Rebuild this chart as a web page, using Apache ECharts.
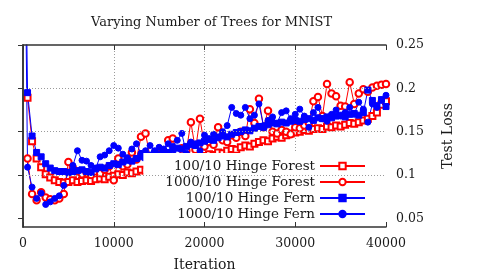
<!DOCTYPE html>
<html>
<head>
<meta charset="utf-8">
<script src="https://cdn.jsdelivr.net/npm/echarts@6/dist/echarts.min.js"></script>
<style>
html,body{margin:0;padding:0;background:#fff;}
#chart{width:485px;height:277px;}
</style>
</head>
<body>
<div id="chart"></div>
<script>
const titleText = 'Varying Number of Trees for MNIST';
const xName = 'Iteration';
const yName = 'Test Loss';
const seriesNames = ['100/10 Hinge Forest', '1000/10 Hinge Forest', '100/10 Hinge Fern', '1000/10 Hinge Fern'];
const xTicks = [0, 10000, 20000, 30000, 40000];
const yTicks = [0.05, 0.1, 0.15, 0.2, 0.25];

const iterations = [0,
  500, 1000, 1500, 2000, 2500, 3000, 3500, 4000, 4500, 5000,
  5500, 6000, 6500, 7000, 7500, 8000, 8500, 9000, 9500, 10000,
  10500, 11000, 11500, 12000, 12500, 13000, 13500, 14000, 14500, 15000,
  15500, 16000, 16500, 17000, 17500, 18000, 18500, 19000, 19500, 20000,
  20500, 21000, 21500, 22000, 22500, 23000, 23500, 24000, 24500, 25000,
  25500, 26000, 26500, 27000, 27500, 28000, 28500, 29000, 29500, 30000,
  30500, 31000, 31500, 32000, 32500, 33000, 33500, 34000, 34500, 35000,
  35500, 36000, 36500, 37000, 37500, 38000, 38500, 39000, 39500, 40000];

const forest100 = [null,
  0.189, 0.139, 0.119, 0.109, 0.101, 0.097, 0.094, 0.092, 0.091, 0.092,
  0.094, 0.092, 0.093, 0.094, 0.093, 0.095, 0.096, 0.095, 0.098, 0.099,
  0.101, 0.100, 0.103, 0.102, 0.104, 0.106, 0.105, 0.108, 0.107, 0.110,
  0.112, 0.111, 0.114, 0.113, 0.116, 0.118, 0.117, 0.120, 0.119, 0.122,
  0.124, 0.123, 0.126, 0.125, 0.128, 0.130, 0.129, 0.132, 0.134, 0.133,
  0.136, 0.138, 0.140, 0.139, 0.142, 0.144, 0.143, 0.146, 0.148, 0.149,
  0.150, 0.152, 0.151, 0.153, 0.154, 0.153, 0.156, 0.155, 0.157, 0.156,
  0.158, 0.160, 0.159, 0.161, 0.163, 0.165, 0.168, 0.172, 0.181, 0.185];

const forest1000 = [null,
  0.119, 0.078, 0.071, 0.080, 0.074, 0.072, 0.071, 0.073, 0.078, 0.115,
  0.108, 0.104, 0.101, 0.103, 0.100, 0.104, 0.102, 0.106, 0.110, 0.094,
  0.119, 0.110, 0.112, 0.126, 0.118, 0.144, 0.148, 0.121, 0.118, 0.124,
  0.125, 0.140, 0.142, 0.126, 0.131, 0.128, 0.161, 0.129, 0.165, 0.133,
  0.138, 0.135, 0.155, 0.140, 0.138, 0.146, 0.143, 0.150, 0.145, 0.176,
  0.160, 0.188, 0.155, 0.174, 0.150, 0.148, 0.152, 0.150, 0.147, 0.155,
  0.154, 0.157, 0.160, 0.185, 0.190, 0.168, 0.205, 0.194, 0.191, 0.180,
  0.179, 0.207, 0.182, 0.194, 0.199, 0.196, 0.201, 0.203, 0.204, 0.205];

const fern100 = [0.6,
  0.195, 0.145, 0.126, 0.121, 0.113, 0.108, 0.105, 0.104, 0.104, 0.103,
  0.104, 0.105, 0.106, 0.104, 0.103, 0.107, 0.109, 0.108, 0.111, 0.113,
  0.112, 0.115, 0.117, 0.116, 0.119, 0.121, 0.120, 0.123, 0.125, 0.124,
  0.127, 0.126, 0.129, 0.131, 0.130, 0.133, 0.135, 0.134, 0.137, 0.139,
  0.141, 0.140, 0.143, 0.145, 0.144, 0.147, 0.149, 0.150, 0.152, 0.151,
  0.154, 0.156, 0.155, 0.158, 0.160, 0.159, 0.161, 0.160, 0.162, 0.163,
  0.162, 0.164, 0.165, 0.163, 0.166, 0.165, 0.167, 0.166, 0.168, 0.169,
  0.167, 0.170, 0.171, 0.169, 0.172, 0.198, 0.186, 0.180, 0.187, 0.179];

const fern1000 = [0.6,
  0.109, 0.086, 0.073, 0.079, 0.066, 0.069, 0.073, 0.076, 0.088, 0.103,
  0.111, 0.128, 0.117, 0.116, 0.111, 0.108, 0.121, 0.123, 0.128, 0.134,
  0.131, 0.124, 0.120, 0.130, 0.136, 0.125, 0.128, 0.134, 0.128, 0.132,
  0.130, 0.136, 0.133, 0.140, 0.148, 0.125, 0.138, 0.136, 0.128, 0.146,
  0.142, 0.147, 0.144, 0.150, 0.157, 0.178, 0.171, 0.169, 0.178, 0.165,
  0.169, 0.182, 0.157, 0.163, 0.167, 0.160, 0.172, 0.174, 0.165, 0.170,
  0.176, 0.168, 0.155, 0.172, 0.178, 0.165, 0.162, 0.170, 0.175, 0.168,
  0.172, 0.178, 0.170, 0.184, 0.176, 0.161, 0.182, 0.178, 0.186, 0.192];

const FONT = 'DejaVu Serif';
const TXT = '#1a1a1a';
const RED = '#ff0000';
const BLUE = '#0000ff';
const FRAME = { show: true, lineStyle: { color: '#333', width: 1.5 } };

function pairs(vals) {
  return iterations.map((it, i) => [it, vals[i]]);
}

const gridLine = { show: true, showMinLine: false, showMaxLine: false, lineStyle: { type: [1, 2], color: '#9a9a9a', width: 1 } };

function mkSeries(name, vals, symbol, color, size) {
  return {
    type: 'line', name: name, data: pairs(vals),
    symbol: symbol, symbolSize: size, color: color,
    lineStyle: { width: 1, color: color },
    itemStyle: { color: color, borderColor: color, borderWidth: 1 },
    xAxisIndex: 0, yAxisIndex: 0, clip: true,
    emphasis: { disabled: true }
  };
}

const chart = echarts.init(document.getElementById('chart'), null, { renderer: 'canvas' });
chart.setOption({
  animation: false,
  backgroundColor: '#fff',
  title: {
    text: titleText, left: 91, top: 16, padding: 0,
    textStyle: { fontFamily: FONT, fontSize: 13, fontWeight: 'normal', color: TXT }
  },
  grid: { left: 23, right: 99, top: 45, bottom: 50 },
  legend: {
    orient: 'vertical', align: 'right', right: 109, top: 153,
    padding: [6, 10, 5, 22], itemGap: 2, itemWidth: 45, itemHeight: 8,
    backgroundColor: '#fff',
    textStyle: { fontFamily: FONT, fontSize: 13.5, color: TXT },
    data: seriesNames
  },
  xAxis: [
    {
      type: 'value', min: xTicks[0], max: xTicks[xTicks.length - 1], interval: 10000, position: 'bottom',
      axisLine: { show: false }, axisTick: { show: false },
      splitLine: gridLine,
      axisLabel: { margin: 10, fontFamily: FONT, fontSize: 12.5, color: TXT, formatter: v => String(v) },
      name: xName, nameLocation: 'middle', nameGap: 31,
      nameTextStyle: { fontFamily: FONT, fontSize: 14, color: TXT }
    },
    {
      type: 'value', min: 0, max: 40000, interval: 10000, position: 'bottom', z: 10,
      axisLine: FRAME, axisLabel: { show: false }, splitLine: { show: false },
      axisTick: { show: true, inside: true, length: 5, lineStyle: { color: '#333', width: 1 } }
    },
    {
      type: 'value', min: 0, max: 40000, interval: 10000, position: 'top', z: 10,
      axisLine: FRAME, axisLabel: { show: false }, splitLine: { show: false },
      axisTick: { show: true, inside: true, length: 5, lineStyle: { color: '#333', width: 1 } }
    }
  ],
  yAxis: [
    {
      type: 'value', position: 'right', min: 0.04, max: 0.25, z: 10,
      axisLine: FRAME,
      axisTick: { show: true, inside: true, length: 5, customValues: yTicks, lineStyle: { color: '#333', width: 1 } },
      axisLabel: { customValues: yTicks, margin: 10, fontFamily: FONT, fontSize: 12.5, color: TXT, formatter: v => String(+v.toFixed(2)) },
      splitLine: gridLine,
      name: yName, nameLocation: 'middle', nameRotate: 90, nameGap: 55,
      nameTextStyle: { fontFamily: FONT, fontSize: 14, color: TXT }
    },
    {
      type: 'value', position: 'left', min: 0.04, max: 0.25, z: 10,
      axisLine: FRAME, axisTick: { show: false }, axisLabel: { show: false }, splitLine: { show: false }
    }
  ],
  series: [
    mkSeries(seriesNames[0], forest100, 'emptyRect', RED, 6),
    mkSeries(seriesNames[1], forest1000, 'emptyCircle', RED, 6.5),
    mkSeries(seriesNames[2], fern100, 'rect', BLUE, 6),
    mkSeries(seriesNames[3], fern1000, 'circle', BLUE, 6)
  ]
});
</script>
</body>
</html>
